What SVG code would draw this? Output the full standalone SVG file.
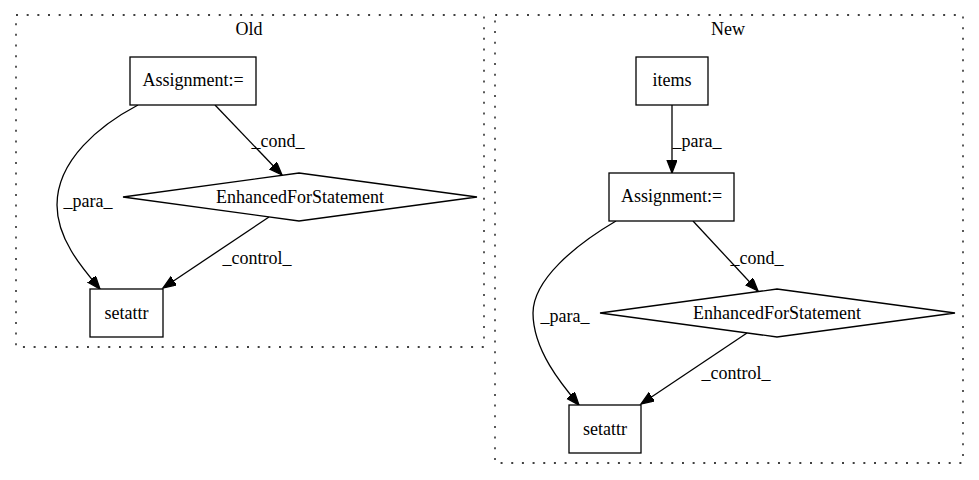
<svg xmlns="http://www.w3.org/2000/svg" width="979" height="480" viewBox="0 0 979 480">
<style>
text{font-family:"Liberation Serif","Times New Roman",serif;font-size:18px;fill:#000;text-anchor:middle}
.cl{fill:none;stroke:#000;stroke-width:1.3;stroke-dasharray:2,8.67}
.nd{fill:#fff;stroke:#000;stroke-width:1.3}
.ed{fill:none;stroke:#000;stroke-width:1.3;marker-end:url(#ah)}
</style>
<defs>
<marker id="ah" markerUnits="userSpaceOnUse" markerWidth="15" markerHeight="11" refX="13" refY="5" orient="auto">
<path d="M0,0 L13,5 L0,10 z" fill="#000" stroke="#000" stroke-width="1.3"/>
</marker>
</defs>
<rect width="979" height="480" fill="#fff"/>
<g id="cluster_old">
<rect class="cl" x="16" y="15" width="468" height="332"/>
<text x="249" y="35">Old</text>
</g>
<g id="cluster_new">
<rect class="cl" x="495" y="15" width="468" height="448"/>
<text x="728" y="35">New</text>
</g>
<g id="edges">
<path class="ed" d="M138,105 C100,125 57,160 57,205 C57,240 84,270 100,289"/>
<text x="88" y="207">_para_</text>
<path class="ed" d="M215,105 L282,175"/>
<text x="278" y="147">_cond_</text>
<path class="ed" d="M269,217 L163,288"/>
<text x="257" y="264">_control_</text>
<path class="ed" d="M672,105 L672,173"/>
<text x="697" y="147">_para_</text>
<path class="ed" d="M616,221 C575,245 533,280 533,313 C533,350 562,385 579,405"/>
<text x="565" y="322">_para_</text>
<path class="ed" d="M693,221 L758,291"/>
<text x="757" y="264">_cond_</text>
<path class="ed" d="M747,333 L641,404"/>
<text x="736" y="379">_control_</text>
</g>
<g id="old_assign">
<rect class="nd" x="130" y="57" width="126" height="48"/>
<text x="193" y="86">Assignment:=</text>
</g>
<g id="old_for">
<polygon class="nd" points="299,173 477,197 299,221 123,197"/>
<text x="300" y="203">EnhancedForStatement</text>
</g>
<g id="old_setattr">
<rect class="nd" x="90" y="289" width="73" height="48"/>
<text x="126.5" y="319">setattr</text>
</g>
<g id="new_items">
<rect class="nd" x="636" y="57" width="72" height="48"/>
<text x="672" y="86">items</text>
</g>
<g id="new_assign">
<rect class="nd" x="609" y="173" width="125" height="48"/>
<text x="671.5" y="202">Assignment:=</text>
</g>
<g id="new_for">
<polygon class="nd" points="777,289 955,313 777,337 600,313"/>
<text x="777" y="319">EnhancedForStatement</text>
</g>
<g id="new_setattr">
<rect class="nd" x="569" y="405" width="72" height="48"/>
<text x="605" y="435">setattr</text>
</g>
</svg>
